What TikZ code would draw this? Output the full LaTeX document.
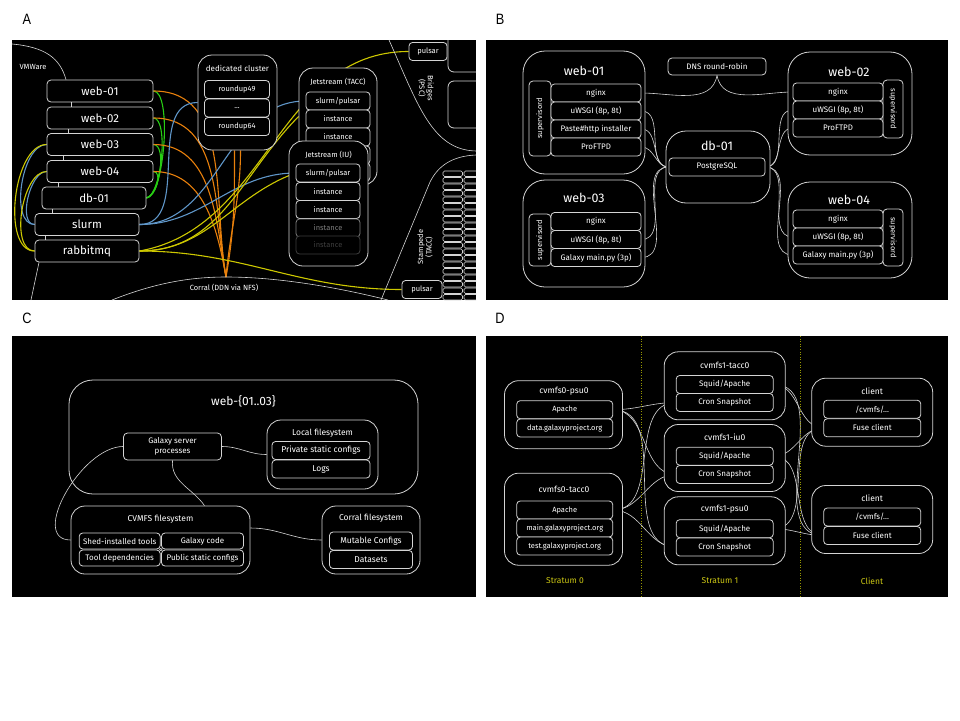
\documentclass[tikz,border=0pt]{standalone}
\usepackage{fontspec}
\setmainfont{Fira Sans}
\newfontfamily\panelfont{Liberation Sans}[FakeStretch=0.85]
\usepackage{tikz}
\usetikzlibrary{positioning}

\definecolor{frame}{RGB}{212,212,212}
\definecolor{fadeA}{RGB}{125,125,125}
\definecolor{fadeB}{RGB}{62,62,62}
\definecolor{wireorange}{RGB}{232,128,12}
\definecolor{wiregreen}{RGB}{40,205,20}
\definecolor{wireblue}{RGB}{95,150,200}
\definecolor{wireyellow}{RGB}{205,200,0}
\definecolor{stratum}{RGB}{205,200,20}
\definecolor{divider}{RGB}{150,150,0}

\pgfdeclarelayer{panels}
\pgfdeclarelayer{wires}
\pgfsetlayers{panels,wires,main}

\begin{document}
\begin{tikzpicture}[x=1pt, y=-1pt,
		box/.style 2 args={draw=frame, fill=black, text=white, line width=0.8pt, rounded corners=4pt, inner sep=0pt, minimum width=#1pt, minimum height=#2pt},
		grp/.style 2 args={box={#1}{#2}, rounded corners=14pt},
		rowbox/.style={box={#1}{18}, rounded corners=3.5pt, font=\fontsize{7.5}{8}\selectfont},
		big/.style={font=\fontsize{11.5}{14}\selectfont},
		boxtitle/.style={text=white, inner sep=0pt, font=\fontsize{7.5}{8.5}\selectfont},
		bigtitle/.style={text=white, inner sep=0pt, font=\fontsize{12.5}{14}\selectfont},
		sup/.style={font=\fontsize{7.5}{8}\selectfont},
		rowB/.style={rowbox=#1, font=\fontsize{8}{9}\selectfont},
		rowC/.style={rowbox=#1, font=\fontsize{8.5}{9}\selectfont},
		titleCD/.style={boxtitle, font=\fontsize{8.5}{9}\selectfont},
		panellabel/.style={inner sep=0pt, font=\panelfont\fontsize{15}{16}\selectfont},
		wire/.style={draw=frame, line width=0.6pt},
		cwire/.style={draw=#1, line width=1.1pt},
		cell/.style={draw=frame, line width=0.6pt, rounded corners=1.5pt}]

	\begin{pgfonlayer}{panels}
		\fill[white] (0,0) rectangle (960,720);
		\fill[black] (12,40) rectangle (476,300);
		\fill[black] (486,40) rectangle (948,300);
		\fill[black] (12,336) rectangle (476,597);
		\fill[black] (486,336) rectangle (948,597);
	\end{pgfonlayer}
	\useasboundingbox (0,0) rectangle (960,720);

	\node[panellabel] (labA) at (27,19) {A};
	\node[panellabel] (labB) at (500,19) {B};
	\node[panellabel] (labC) at (27,318) {C};
	\node[panellabel] (labD) at (500,318) {D};

	% A
	\node[boxtitle] (vmware) at (33,67) {VMWare};
	\node[box={106}{22}, big] (web01) at (100,91) {web-01};
	\node[box={106}{22}, big] (web02) at (100,118) {web-02};
	\node[box={106}{22}, big] (web03) at (100,144.5) {web-03};
	\node[box={106}{22}, big] (web04) at (100,171.5) {web-04};
	\node[box={104}{22}, big] (db01) at (94,198) {db-01};
	\node[box={104}{22}, big] (slurm) at (87,224.5) {slurm};
	\node[box={104}{22}, big] (rabbitmq) at (87,251) {rabbitmq};
	\coordinate (vmtop) at (12,44);
	\coordinate (vmfoot) at (31,300);
	\coordinate (corraltop) at (226,277);

	\node[grp={79}{95}] (dedicated) at (237.5,102.5) {};
	\node[boxtitle, font=\fontsize{8}{9}\selectfont] (dedicatedT) at (237.5,68) {dedicated cluster};
	\node[rowbox=65] (roundup49) at (237,89.5) {roundup49};
	\node[rowbox=65] (roundupdots) at (237,108) {...};
	\node[rowbox=65] (roundup64) at (237,126.5) {roundup64};

	\node[grp={78}{117}] (jstacc) at (338,126.5) {};
	\node[boxtitle] (jstaccT) at (338,82) {Jetstream (TACC)};
	\node[rowbox=64] (taccslurm) at (338,101) {slurm/pulsar};
	\node[rowbox=64] (tacci1) at (338,119) {instance};
	\node[rowbox=64] (tacci2) at (338,137) {instance};
	\node[rowbox=64] (tacci3) at (338,155) {};
	\node[rowbox=64] (tacci4) at (338,172) {};
	\node[grp={79}{125}] (jsiu) at (328.5,203.5) {};
	\node[boxtitle] (jsiuT) at (328.5,155) {Jetstream (IU)};
	\node[rowbox=64] (iuslurm) at (328,173) {slurm/pulsar};
	\node[rowbox=64] (iui1) at (328,191.5) {instance};
	\node[rowbox=64] (iui2) at (328,209.5) {instance};
	\node[rowbox=64, draw=fadeA, text=fadeA] (iui3) at (328,228) {instance};
	\node[rowbox=64, draw=fadeB, text=fadeB] (iui4) at (328,245) {instance};

	\begin{scope}
		\clip (12,40) rectangle (476,300);
		\draw[wire, line width=0.8pt, rounded corners=6pt] (448,20) rectangle (500,72);
		\draw[wire, line width=0.8pt, rounded corners=6pt] (448,81) rectangle (500,128);
		\foreach \r in {0,...,19} {
			\draw[cell] (443,{171+\r*6.5}) rectangle (462.5,{176.5+\r*6.5});
			\draw[cell] (464,{171+\r*6.5}) rectangle (484,{176.5+\r*6.5});
		}
	\end{scope}
	\draw[wire] (389,40) .. controls (418,105) and (432,150) .. (476,151);
	\draw[wire] (476,155) .. controls (452,156) and (438,166) .. (430,182) -- (381,300);
	\node[rowbox=38] (bpulsar) at (428,51.5) {pulsar};
	\node[rowbox=40] (spulsar) at (422,289.5) {pulsar};
	\node[boxtitle, rotate=-90, align=center] (bridges) at (426,88) {Bridges\\(PSC)};
	\node[boxtitle, rotate=90, align=center] (stampede) at (425,247) {Stampede\\(TACC)};

	\draw[wire] (112,300) .. controls (150,285) and (185,277) .. (corraltop) .. controls (280,277) and (340,288) .. (388,300);
	\node[boxtitle] (corral) at (224,288) {Corral (DDN via NFS)};

	\draw[wire] (vmtop) .. controls (45,47) and (60,58) .. ([xshift=-34pt]web01.north);
	\draw[wire] ([xshift=-48pt]rabbitmq.south) -- (vmfoot);
	\draw[wire, line width=0.8pt] ([xshift=-29pt]web01.south) -- ([xshift=-29pt]web02.north);
	\draw[wire, line width=0.8pt] ([xshift=-32pt]web02.south) -- ([xshift=-32pt]web03.north);
	\draw[wire, line width=0.8pt] ([xshift=-37pt]web03.south) -- ([xshift=-37pt]web04.north);
	\draw[wire, line width=0.8pt] ([xshift=-42pt]web04.south) -- ([xshift=-36pt]db01.north);
	\draw[wire, line width=0.8pt] ([xshift=-42pt]db01.south) -- ([xshift=-35pt]slurm.north);
	\draw[wire, line width=0.8pt] ([xshift=-42pt]slurm.south) -- ([xshift=-42pt]rabbitmq.north);

	\begin{pgfonlayer}{wires}
		\foreach \w/\l in {web01/0.45,web02/0.5,web03/0.65,web04/0.9}
			\draw[cwire=wiregreen] (\w.east) to[out=0,in=10,looseness=\l] (db01.east);
		\foreach \w in {web01,web02,web03,web04}
			\draw[cwire=wireorange] (\w.east) to[out=0,in=100] (corraltop);
		\draw[cwire=wireorange] ([xshift=-3pt]dedicated.south) to[out=-90,in=80] (corraltop);
		\draw[cwire=wireorange] ([xshift=3pt]dedicated.south) to[out=-90,in=85] (corraltop);
		\draw[cwire=wireblue] (slurm.east) to[out=0,in=180] (dedicated.west);
		\draw[cwire=wireblue] (slurm.east) to[out=0,in=180] (taccslurm.west);
		\draw[cwire=wireblue] (slurm.east) to[out=0,in=180] (iuslurm.west);
		\draw[cwire=wireblue] (slurm.west) to[out=180,in=180,looseness=0.8] (web03.west);
		\draw[cwire=wireblue] (slurm.west) to[out=180,in=180,looseness=0.8] (web04.west);
		\draw[cwire=wireyellow] (rabbitmq.west) to[out=180,in=180,looseness=0.8] (web03.west);
		\draw[cwire=wireyellow] (rabbitmq.west) to[out=180,in=180,looseness=0.8] (web04.west);
		\draw[cwire=wireyellow] (rabbitmq.east) to[out=0,in=225] ([yshift=10pt]jstacc.west);
		\draw[cwire=wireyellow] (rabbitmq.east) to[out=0,in=200] (iuslurm.west);
		\draw[cwire=wireyellow] (rabbitmq.east) to[out=10,in=180] (bpulsar.west);
		\draw[cwire=wireyellow] (rabbitmq.east) to[out=0,in=180] (spulsar.west);
	\end{pgfonlayer}

	% B
	\node[grp={122}{123}, rounded corners=22pt] (bweb01) at (584,112.5) {};
	\node[bigtitle] (bweb01T) at (584,71) {web-01};
	\node[box={75}{22}, rotate=90, sup] (bsup01) at (540,118.5) {supervisord};
	\node[rowB=90] (b1nginx) at (596,93) {nginx};
	\node[rowB=90] (b1uwsgi) at (596,111) {uWSGI (8p, 8t)};
	\node[rowB=90] (b1paste) at (596,129) {Paste\#http installer};
	\node[rowB=90] (b1proftpd) at (596,147) {ProFTPD};

	\node[grp={122}{107}, rounded corners=22pt] (bweb03) at (584,233.5) {};
	\node[bigtitle] (bweb03T) at (584,198) {web-03};
	\node[box={52}{22}, rotate=90, sup] (bsup03) at (540,240) {supervisord};
	\node[rowB=90] (b3nginx) at (596,221.5) {nginx};
	\node[rowB=90] (b3uwsgi) at (596,239.5) {uWSGI (8p, 8t)};
	\node[rowB=90] (b3galaxy) at (596,257.5) {Galaxy main.py (3p)};

	\node[box={98}{17}, font=\fontsize{8}{9}\selectfont] (dns) at (717,66.5) {DNS round-robin};
	\node[grp={104}{72}, rounded corners=20pt] (bdb01) at (718,167) {};
	\node[bigtitle] (bdb01T) at (717,146) {db-01};
	\node[rowB=96] (pg) at (717,167) {PostgreSQL};

	\node[grp={124}{103}, rounded corners=22pt] (bweb02) at (850,103.5) {};
	\node[bigtitle] (bweb02T) at (849,72) {web-02};
	\node[box={58}{20}, rotate=-90, sup] (bsup02) at (893,109) {supervisord};
	\node[rowB=90] (b2nginx) at (838,92) {nginx};
	\node[rowB=90] (b2uwsgi) at (838,110) {uWSGI (8p, 8t)};
	\node[rowB=90] (b2proftpd) at (838,128) {ProFTPD};

	\node[grp={124}{96}, rounded corners=22pt] (bweb04) at (850,230) {};
	\node[bigtitle] (bweb04T) at (849,200) {web-04};
	\node[box={57}{20}, rotate=-90, sup] (bsup04) at (893,237.5) {supervisord};
	\node[rowB=90] (b4nginx) at (838,219) {nginx};
	\node[rowB=90] (b4uwsgi) at (838,237) {uWSGI (8p, 8t)};
	\node[rowB=90] (b4galaxy) at (838,255) {Galaxy main.py (3p)};

	\begin{pgfonlayer}{wires}
		\draw[wire] (b1nginx.east) to[out=0,in=-100] (dns.south);
		\draw[wire] (dns.south) to[out=-80,in=180] (b2nginx.west);
		\foreach \n in {b1uwsgi,b1paste,b1proftpd,b3uwsgi,b3galaxy}
			\draw[wire] (\n.east) to[out=0,in=180] (pg.west);
		\foreach \n in {b2uwsgi,b2proftpd,b4uwsgi,b4galaxy}
			\draw[wire] (pg.east) to[out=0,in=180] (\n.west);
	\end{pgfonlayer}

	% C
	\node[grp={349}{114}, rounded corners=24pt, fill=none] (cweb) at (243.5,437) {};
	\node[bigtitle, font=\fontsize{12}{14}\selectfont] (cwebT) at (243.5,401) {web-\{01..03\}};
	\node[box={98}{27}, align=center, font=\fontsize{8}{9.5}\selectfont] (gsp) at (172.5,446.5) {Galaxy server\\processes};
	\node[grp={111}{69}] (localfs) at (322.5,454.5) {};
	\node[titleCD] (localfsT) at (322.5,433) {Local filesystem};
	\node[rowC=98] (privcfg) at (321,450.5) {Private static configs};
	\node[rowC=98] (logs) at (321,469) {Logs};
	\node[grp={179}{68}] (cvmfs) at (160.5,540) {};
	\node[titleCD] (cvmfsT) at (160.5,519) {CVMFS filesystem};
	\node[rowbox=81, minimum height=16pt, font=\fontsize{8}{9}\selectfont] (shed) at (119.7,541) {Shed-installed tools};
	\node[rowbox=82, minimum height=16pt, font=\fontsize{8}{9}\selectfont] (galcode) at (202.5,541) {Galaxy code};
	\node[rowbox=81, minimum height=16pt, font=\fontsize{8}{9}\selectfont] (tooldeps) at (119.7,558) {Tool dependencies};
	\node[rowbox=82, minimum height=16pt, font=\fontsize{8}{9}\selectfont] (pubcfg) at (202.5,558) {Public static configs};
	\node[circle, draw=frame, fill=black, line width=0.6pt, inner sep=0.9pt] (cvdot) at (160.8,549.5) {};
	\node[grp={98}{68}] (corralfs) at (371,540) {};
	\node[titleCD] (corralfsT) at (371,518.5) {Corral filesystem};
	\node[rowC=83] (mutable) at (371,541) {Mutable Configs};
	\node[rowC=83] (datasets) at (371,559.5) {Datasets};

	\begin{pgfonlayer}{wires}
		\draw[wire] (gsp.west) to[out=180,in=180,looseness=1.0] (cvmfs.west);
		\draw[wire] (gsp.south) to[out=-95,in=125] ([xshift=44pt]cvmfs.north);
		\draw[wire] (gsp.east) to[out=0,in=180] (localfs.west);
		\draw[wire] ([yshift=12pt]cvmfs.east) to[out=0,in=180] (corralfs.west);
	\end{pgfonlayer}

	% D
	\draw[divider, dotted, line width=0.6pt] (641,336) -- (641,597);
	\draw[divider, dotted, line width=0.6pt] (800,336) -- (800,597);

	\node[grp={118}{68}] (s0psu) at (563.5,414.7) {};
	\node[titleCD] (s0psuT) at (564,391) {cvmfs0-psu0};
	\node[rowbox=96] (s0psuApache) at (564.7,409.7) {Apache};
	\node[rowbox=96] (s0psuData) at (564.7,428) {data.galaxyproject.org};
	\node[grp={118}{92}] (s0tacc) at (563.5,519.2) {};
	\node[titleCD] (s0taccT) at (564,489) {cvmfs0-tacc0};
	\node[rowbox=96] (s0taccApache) at (564.7,510) {Apache};
	\node[rowbox=96] (s0taccMain) at (564.7,528) {main.galaxyproject.org};
	\node[rowbox=96] (s0taccTest) at (564.7,546) {test.galaxyproject.org};

	\node[grp={121}{68}] (s1tacc) at (724.7,385.8) {};
	\node[titleCD] (s1taccT) at (724.7,365) {cvmfs1-tacc0};
	\node[rowB=97] (s1taccSquid) at (724.7,384.5) {Squid/Apache};
	\node[rowB=97] (s1taccCron) at (724.7,402.5) {Cron Snapshot};
	\node[grp={121}{67}] (s1iu) at (724.7,458) {};
	\node[titleCD] (s1iuT) at (724.7,437) {cvmfs1-iu0};
	\node[rowB=97] (s1iuSquid) at (724.7,456.2) {Squid/Apache};
	\node[rowB=97] (s1iuCron) at (724.7,474.5) {Cron Snapshot};
	\node[grp={121}{68}] (s1psu) at (724.7,530.8) {};
	\node[titleCD] (s1psuT) at (724.7,509.3) {cvmfs1-psu0};
	\node[rowB=97] (s1psuSquid) at (724.7,528.7) {Squid/Apache};
	\node[rowB=97] (s1psuCron) at (724.7,547) {Cron Snapshot};

	\node[grp={121}{68}] (client1) at (872.2,412.2) {};
	\node[titleCD] (client1T) at (872.2,391) {client};
	\node[rowB=97] (client1Mount) at (872.2,409.2) {/cvmfs/...};
	\node[rowB=97] (client1Fuse) at (872.2,427.8) {Fuse client};
	\node[grp={121}{68}] (client2) at (872.2,519.5) {};
	\node[titleCD] (client2T) at (872.2,498.3) {client};
	\node[rowB=97] (client2Mount) at (872.2,517) {/cvmfs/...};
	\node[rowB=97] (client2Fuse) at (872.2,535.5) {Fuse client};

	\node[titleCD, text=stratum] (stratum0) at (565,581) {Stratum 0};
	\node[titleCD, text=stratum] (stratum1) at (720,581) {Stratum 1};
	\node[titleCD, text=stratum] (stratumC) at (872,581) {Client};

	\begin{pgfonlayer}{wires}
		\foreach \s in {s0psuApache,s0taccApache}
			\foreach \c in {s1taccCron,s1iuCron,s1psuCron}
				\draw[wire] (\s.east) to[out=0,in=180] (\c.west);
		\foreach \s in {s1taccSquid,s1iuSquid,s1psuSquid}
			\foreach \c in {client1Fuse,client2Fuse}
				\draw[wire] (\s.east) to[out=0,in=180] (\c.west);
	\end{pgfonlayer}
\end{tikzpicture}
\end{document}
